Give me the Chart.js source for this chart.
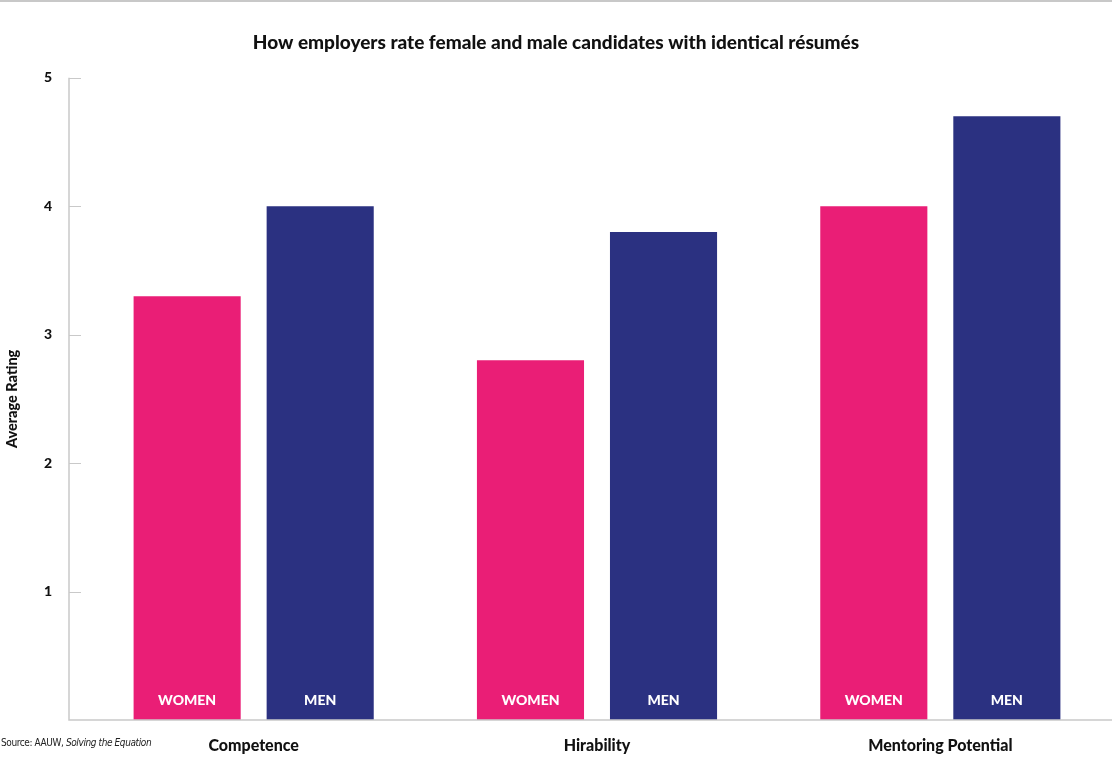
<!DOCTYPE html>
<html lang="en">
<head>
  <meta charset="UTF-8" />
  <title>How employers rate female and male candidates</title>
  <script src="https://cdn.jsdelivr.net/npm/chart.js"></script>
  <style>
    html, body {
      margin: 0;
      padding: 0;
      background: #fff;
    }
    .wrap {
      position: relative;
      width: 1112px;
      height: 781px;
    }
    .topline {
      position: absolute;
      left: 0; top: 0;
      width: 1112px;
      height: 2px;
      background: #c8c8c8;
    }
    .source {
      position: absolute;
      left: 1px;
      top: 737px;
      font-family: "Liberation Sans Narrow", "DejaVu Sans Condensed", Arial, sans-serif;
      font-size: 10px;
      color: #222;
      letter-spacing: -0.4px;
    }
  </style>
</head>
<body>
  <div class="wrap">
    <canvas id="ratingChart" width="1112" height="781"></canvas>
    <div class="topline"></div>
    <div class="source">Source: AAUW, <i>Solving the Equation</i></div>
  </div>

  <script>
    const categories = ["Competence", "Hirability", "Mentoring Potential"];
    const womenRatings = [3.3, 2.8, 4.0];
    const menRatings = [4.0, 3.8, 4.7];
    const seriesNames = ["WOMEN", "MEN"];
    const yTicks = [1, 2, 3, 4, 5];

    const pink = "#ea1e76";
    const navy = "#2b3181";
    const axisGrey = "#c9c9c9";
    const fontFamily = "Lato, 'Open Sans', sans-serif";

    // axis line + short ticks sit a little left of the first bar group
    const axisDecor = {
      id: "axisDecor",
      afterDraw(chart) {
        const ctx = chart.ctx;
        const area = chart.chartArea;
        const y = chart.scales.y;
        const axisX = area.left - 13;
        ctx.save();
        ctx.strokeStyle = axisGrey;
        ctx.lineWidth = 1.5;
        ctx.beginPath();
        ctx.moveTo(axisX, y.getPixelForValue(5));
        ctx.lineTo(axisX, y.getPixelForValue(0));
        ctx.lineTo(area.right, y.getPixelForValue(0));
        ctx.stroke();
        ctx.lineWidth = 1;
        yTicks.forEach(v => {
          const py = Math.round(y.getPixelForValue(v)) + 0.5;
          ctx.beginPath();
          ctx.moveTo(axisX, py);
          ctx.lineTo(axisX + 12, py);
          ctx.stroke();
        });
        ctx.restore();
      }
    };

    // white series names at the foot of every bar
    const barNames = {
      id: "barNames",
      afterDatasetsDraw(chart) {
        const ctx = chart.ctx;
        ctx.save();
        ctx.fillStyle = "#fff";
        ctx.font = "900 14px " + fontFamily;
        ctx.textAlign = "center";
        ctx.textBaseline = "middle";
        chart.data.datasets.forEach((ds, i) => {
          chart.getDatasetMeta(i).data.forEach(bar => {
            ctx.fillText(ds.label, bar.x, bar.base - 20);
          });
        });
        ctx.restore();
      }
    };

    const ctx = document.getElementById("ratingChart").getContext("2d");
    new Chart(ctx, {
      type: "bar",
      data: {
        labels: categories,
        datasets: [
          { label: seriesNames[0], data: womenRatings, backgroundColor: pink },
          { label: seriesNames[1], data: menRatings, backgroundColor: navy }
        ]
      },
      options: {
        responsive: false,
        animation: false,
        layout: { padding: { left: 0, right: 0, top: 0, bottom: 0 } },
        categoryPercentage: 0.775,
        barPercentage: 0.805,
        plugins: {
          legend: { display: false },
          tooltip: { enabled: false },
          title: {
            display: true,
            text: "How employers rate female and male candidates with identical résumés",
            color: "#111",
            font: { family: fontFamily, size: 19, weight: "900" },
            padding: { top: 31, bottom: 24 }
          }
        },
        scales: {
          x: {
            grid: { display: false, drawTicks: false },
            border: { display: false },
            ticks: {
              color: "#111",
              padding: 16,
              font: { family: fontFamily, size: 16, weight: "900" }
            },
            afterFit(scale) { scale.height = 61; }
          },
          y: {
            min: 0,
            max: 5,
            grid: { display: false, drawTicks: false },
            border: { display: false },
            afterBuildTicks(scale) {
              scale.ticks = yTicks.map(v => ({ value: v }));
            },
            ticks: {
              color: "#111",
              padding: 30,
              font: { family: fontFamily, size: 14, weight: "900" }
            },
            title: {
              display: true,
              text: "Average Rating",
              color: "#111",
              padding: { top: 4, bottom: 0 },
              font: { family: fontFamily, size: 14.5, weight: "900" }
            },
            afterFit(scale) { scale.width = 82; }
          }
        }
      },
      plugins: [axisDecor, barNames]
    });
  </script>
</body>
</html>
